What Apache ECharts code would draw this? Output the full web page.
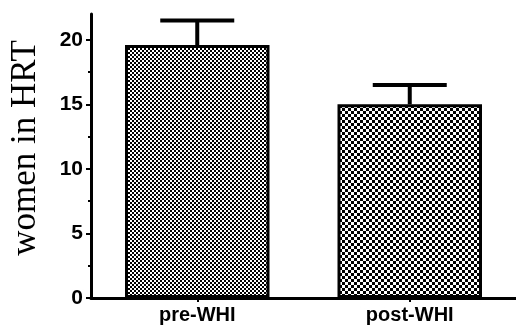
<!DOCTYPE html>
<html><head><meta charset="utf-8">
<script src="https://cdn.jsdelivr.net/npm/echarts@6/dist/echarts.min.js"></script>
<style>html,body{margin:0;padding:0;background:#fff}#c{width:516px;height:329px}</style>
</head><body><div id="c"></div>
<script>
var categories = ['pre-WHI', 'post-WHI'];
var means = [19.6, 15.0];
var upper = [21.5, 16.5];
var yTicks = [0, 5, 10, 15, 20];
var yTitle = 'women in HRT';

function checker(cell) {
  var c = document.createElement('canvas');
  c.width = cell * 2; c.height = cell * 2;
  var g = c.getContext('2d');
  g.fillStyle = '#fff'; g.fillRect(0, 0, cell * 2, cell * 2);
  g.fillStyle = '#000';
  g.fillRect(0, 0, cell, cell); g.fillRect(cell, cell, cell, cell);
  return c;
}
var patterns = [checker(2), checker(3)];

var chart = echarts.init(document.getElementById('c'), null, {renderer: 'canvas'});
chart.setOption({
  animation: false,
  backgroundColor: '#fff',
  grid: {left: 87, right: 0, top: 14, bottom: 31, containLabel: false},
  xAxis: {
    type: 'category', data: categories,
    axisLine: {lineStyle: {color: '#000', width: 3}},
    axisTick: {show: true, alignWithLabel: true, length: 4, lineStyle: {color: '#000', width: 2}},
    axisLabel: {color: '#000', fontFamily: 'Liberation Sans, Arial', fontWeight: 'bold', fontSize: 20, margin: 7}
  },
  yAxis: {
    type: 'value', min: 0, max: 22, interval: 5,
    name: yTitle, nameLocation: 'middle', nameGap: 48, nameRotate: 90,
    nameTextStyle: {color: '#000', fontFamily: 'Liberation Serif, Times New Roman, serif', fontSize: 35, padding: [0, 0, 0, 16]},
    axisLine: {show: true, lineStyle: {color: '#000', width: 3}},
    axisTick: {show: true, length: 5, customValues: yTicks, lineStyle: {color: '#000', width: 2}},
    minorTick: {show: true, splitNumber: 2, length: 3, lineStyle: {color: '#000', width: 2}},
    axisLabel: {color: '#000', fontFamily: 'Liberation Sans, Arial', fontWeight: 'bold', fontSize: 21, margin: 8, customValues: yTicks},
    splitLine: {show: false}
  },
  series: [{
    type: 'bar', barWidth: '68%',
    data: means.map(function (v, i) {
      return {value: v, itemStyle: {color: {image: patterns[i], repeat: 'repeat'}, borderColor: '#000', borderWidth: 3}};
    })
  }, {
    type: 'custom',
    data: means.map(function (v, i) { return [i, v, upper[i]]; }),
    renderItem: function (params, api) {
      var lo = api.coord([api.value(0), api.value(1)]);
      var hi = api.coord([api.value(0), api.value(2)]);
      var hw = 37;
      var st = {stroke: '#000', lineWidth: 4};
      return {type: 'group', children: [
        {type: 'line', shape: {x1: hi[0], y1: lo[1], x2: hi[0], y2: hi[1]}, style: st},
        {type: 'line', shape: {x1: hi[0] - hw, y1: hi[1], x2: hi[0] + hw, y2: hi[1]}, style: st}
      ]};
    },
    z: 3
  }]
});
</script></body></html>
